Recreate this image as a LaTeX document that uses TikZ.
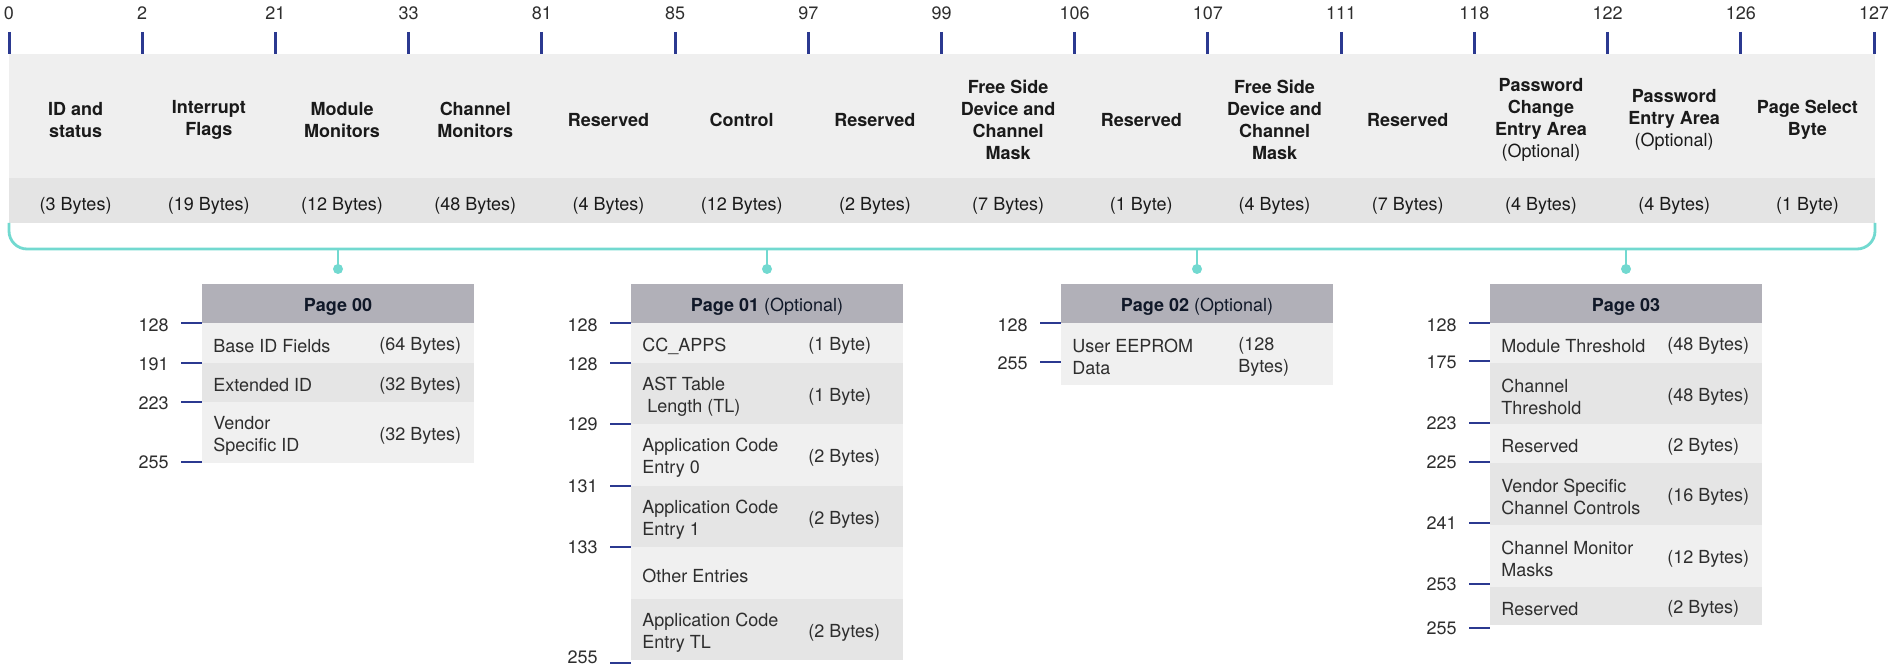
\documentclass[tikz,border=0pt]{standalone}
\usepackage{fontspec}
\setmainfont{TeX Gyre Heros}
\definecolor{bandlight}{HTML}{EFEFEF}
\definecolor{banddark}{HTML}{E4E4E4}
\definecolor{rowlight}{HTML}{F0F0F0}
\definecolor{rowdark}{HTML}{E5E5E5}
\definecolor{headgray}{HTML}{B1B0B8}
\definecolor{tealc}{HTML}{72D9D0}
\definecolor{tickblue}{HTML}{2B3990}
\definecolor{txtdark}{HTML}{1A1A1A}
\definecolor{rowtext}{HTML}{2E2E2E}
\definecolor{headtext}{HTML}{101828}
\newcommand{\mrow}[7]{%
  \fill[#5] (#2,#3) rectangle ({#2+272},#4);
  \node[rowtxt] (#1a) at ({#2+11},{(#3+#4)/2+3}) {#6};
  \node[rowtxt] (#1b) at ({#2+177},{(#3+#4)/2+3}) {#7};
}
\newcommand{\mtick}[5]{%
  \draw[ptick] ({#2-21},#3) -- (#2,#3);
  \node[rulenum, anchor=east] (#1) at ({#2-33},#4) {#5};
}
\newcommand{\mhead}[3]{%
  \fill[headgray] (#2,284) rectangle ({#2+272},323);
  \node[headtxt] (#1) at ({#2+136},307) {#3};
}
\begin{document}
\begin{tikzpicture}[x=0.5pt,y=-0.5pt,
  basefont/.style={font=\fontsize{9}{11}\selectfont},
  rulenum/.style={basefont, text=rowtext, inner sep=0pt},
  bandlabel/.style={basefont, font=\fontsize{9}{11}\selectfont\bfseries, text=txtdark, align=center, inner sep=0pt},
  bytelbl/.style={basefont, text=txtdark, inner sep=0pt},
  rowtxt/.style={basefont, text=rowtext, anchor=west, align=left, inner sep=0pt},
  headtxt/.style={basefont, text=headtext, inner sep=0pt},
  tickline/.style={draw=tickblue, line width=1.5pt},
  ptick/.style={draw=tickblue, line width=1.3pt},
  bracketline/.style={draw=tealc, line width=1.4pt},
  dot/.style={circle, fill=tealc, inner sep=0pt, minimum size=5pt}]
\useasboundingbox (0,0) rectangle (1888,667);

% top band
\fill[bandlight] (9,54) rectangle (1875,178);
\fill[banddark] (9,178) rectangle (1875,223);

% ruler
\foreach \n [count=\i from 0] in {0,2,21,33,81,85,97,99,106,107,111,118,122,126,127} {
  \draw[tickline] ({9+133.214*\i},32) -- ({9+133.214*\i},54);
  \node[rulenum] (r\i) at ({9+133.214*\i},13) {\n};
}

% column labels
\foreach \t [count=\i from 0] in {
  {ID and\\status},{Interrupt\\Flags},{Module\\Monitors},{Channel\\Monitors},
  {Reserved},{Control},{Reserved},{Free Side\\Device and\\Channel\\Mask},
  {Reserved},{Free Side\\Device and\\Channel\\Mask},{Reserved},
  {Password\\Change\\Entry Area\\{\mdseries(Optional)}},
  {Password\\Entry Area\\{\mdseries(Optional)}},{Page Select\\Byte}} {
  \node[bandlabel] (c\i) at ({9+133.214*(\i+0.5)},120) {\t};
}
\foreach \t [count=\i from 0] in {
  (3 Bytes),(19 Bytes),(12 Bytes),(48 Bytes),(4 Bytes),(12 Bytes),(2 Bytes),
  (7 Bytes),(1 Byte),(4 Bytes),(7 Bytes),(4 Bytes),(4 Bytes),(1 Byte)} {
  \node[bytelbl] (b\i) at ({9+133.214*(\i+0.5)},206) {\t};
}

% bracket
\coordinate (bl) at (9,223);
\coordinate (br) at (1875,223);
\draw[bracketline, rounded corners=9pt] (bl) -- (9,249) -- (1875,249) -- (br);
\foreach \x [count=\i from 0] in {338,767,1197,1626} {
  \coordinate (s\i) at (\x,249);
  \node[dot] (d\i) at (\x,269) {};
  \draw[bracketline] (s\i) -- (d\i.center);
}

% Page 00
\mhead{h0}{202}{\bfseries Page 00}
\mrow{p0r1}{202}{323}{363}{rowlight}{Base ID Fields}{(64 Bytes)}
\mrow{p0r2}{202}{363}{402}{rowdark}{Extended ID}{(32 Bytes)}
\mrow{p0r3}{202}{402}{463}{rowlight}{Vendor\\Specific ID}{(32 Bytes)}
\mtick{p0t1}{202}{323}{325}{128}
\mtick{p0t2}{202}{363}{364}{191}
\mtick{p0t3}{202}{402}{403}{223}
\mtick{p0t4}{202}{462}{462}{255}

% Page 01
\mhead{h1}{631}{{\bfseries Page 01} (Optional)}
\mrow{p1r1}{631}{323}{363}{rowlight}{CC\_APPS}{(1 Byte)}
\mrow{p1r2}{631}{363}{424}{rowdark}{AST Table\\\hspace*{2.5pt}Length (TL)}{(1 Byte)}
\mrow{p1r3}{631}{424}{486}{rowlight}{Application Code\\Entry 0}{(2 Bytes)}
\mrow{p1r4}{631}{486}{547}{rowdark}{Application Code\\Entry 1}{(2 Bytes)}
\mrow{p1r5}{631}{547}{599}{rowlight}{Other Entries}{}
\mrow{p1r6}{631}{599}{660}{rowdark}{Application Code\\Entry TL}{(2 Bytes)}
\mtick{p1t1}{631}{323}{325}{128}
\mtick{p1t2}{631}{363}{364}{128}
\mtick{p1t3}{631}{424}{424}{129}
\mtick{p1t4}{631}{486}{486}{131}
\mtick{p1t5}{631}{547}{547}{133}
\mtick{p1t6}{631}{663}{657}{255}

% Page 02
\mhead{h2}{1061}{{\bfseries Page 02} (Optional)}
\mrow{p2r1}{1061}{323}{385}{rowlight}{User EEPROM\\Data}{(128\\Bytes)}
\mtick{p2t1}{1061}{323}{325}{128}
\mtick{p2t2}{1061}{362}{363}{255}

% Page 03
\mhead{h3}{1490}{\bfseries Page 03}
\mrow{p3r1}{1490}{323}{363}{rowlight}{Module Threshold}{(48 Bytes)}
\mrow{p3r2}{1490}{363}{424}{rowdark}{Channel\\Threshold}{(48 Bytes)}
\mrow{p3r3}{1490}{424}{463}{rowlight}{Reserved}{(2 Bytes)}
\mrow{p3r4}{1490}{463}{525}{rowdark}{Vendor Specific\\Channel Controls}{(16 Bytes)}
\mrow{p3r5}{1490}{525}{587}{rowlight}{Channel Monitor\\Masks}{(12 Bytes)}
\mrow{p3r6}{1490}{587}{625}{rowdark}{Reserved}{(2 Bytes)}
\mtick{p3t1}{1490}{323}{325}{128}
\mtick{p3t2}{1490}{361}{362}{175}
\mtick{p3t3}{1490}{423}{423}{223}
\mtick{p3t4}{1490}{462}{462}{225}
\mtick{p3t5}{1490}{523}{523}{241}
\mtick{p3t6}{1490}{584}{584}{253}
\mtick{p3t7}{1490}{628}{628}{255}
\end{tikzpicture}
\end{document}
